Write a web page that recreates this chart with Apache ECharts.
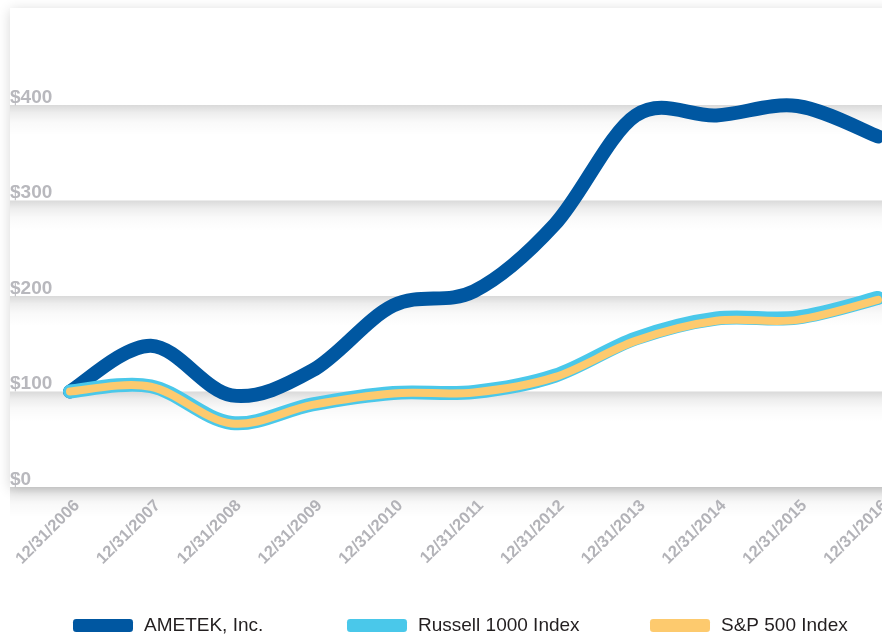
<!DOCTYPE html>
<html>
<head>
<meta charset="utf-8">
<style>
  html, body { margin: 0; padding: 0; background: #ffffff; overflow: hidden; }
  #chart { width: 882px; height: 635px; }
</style>
<script src="https://cdn.jsdelivr.net/npm/echarts@6/dist/echarts.min.js"></script>
</head>
<body>
<div id="chart"></div>
<script>
const categories = ['12/31/2006','12/31/2007','12/31/2008','12/31/2009','12/31/2010','12/31/2011','12/31/2012','12/31/2013','12/31/2014','12/31/2015','12/31/2016'];
const ametek  = [100, 148, 96, 122, 190, 205, 275, 389, 389, 399, 367];
const russell = [100, 105.5, 67, 86.5, 98.5, 99.5, 116.5, 155.5, 176.5, 177.5, 198];
const sp500   = [100, 105, 66.5, 86, 98, 99, 115, 153, 174, 175, 196];
const yTickValues = [0, 100, 200, 300, 400];
const seriesNames = ['AMETEK, Inc.', 'Russell 1000 Index', 'S&P 500 Index'];
const seriesColors = ['#0057a1', '#4ac8ea', '#fdca6e'];
const seriesWidths = [14, 14, 8];

const chart = echarts.init(document.getElementById('chart'), null, { renderer: 'canvas' });

const band = {
  type: 'linear', x: 0, y: 0, x2: 0, y2: 1,
  colorStops: [
    { offset: 0, color: 'rgba(0,0,0,0.15)' },
    { offset: 0.08, color: 'rgba(0,0,0,0.07)' },
    { offset: 0.18, color: 'rgba(0,0,0,0.025)' },
    { offset: 0.32, color: 'rgba(0,0,0,0)' },
    { offset: 1, color: 'rgba(0,0,0,0)' }
  ]
};

// Smooth curve (Catmull-Rom -> cubic Bezier) through points placed by the axes.
function makeRender(values, width, color) {
  return function (params, api) {
    if (params.dataIndex !== 0) return null;
    const pts = values.map(function (v, i) { return api.coord([i, v]); });
    let d = 'M' + pts[0][0] + ' ' + pts[0][1];
    for (let i = 0; i < pts.length - 1; i++) {
      const p0 = pts[i - 1] || pts[i], p1 = pts[i], p2 = pts[i + 1], p3 = pts[i + 2] || pts[i + 1];
      const c1x = p1[0] + (p2[0] - p0[0]) / 6, c1y = p1[1] + (p2[1] - p0[1]) / 6;
      const c2x = p2[0] - (p3[0] - p1[0]) / 6, c2y = p2[1] - (p3[1] - p1[1]) / 6;
      d += ' C' + c1x + ' ' + c1y + ' ' + c2x + ' ' + c2y + ' ' + p2[0] + ' ' + p2[1];
    }
    return {
      type: 'path',
      shape: { pathData: d },
      style: { fill: null, stroke: color, lineWidth: width, lineCap: 'round', lineJoin: 'round' }
    };
  };
}

function lineSeries(idx, values) {
  return {
    name: seriesNames[idx], type: 'custom', xAxisIndex: 2, yAxisIndex: 2, clip: false,
    data: values.map(function (v, i) { return [i, v]; }),
    encode: { x: 0, y: 1 },
    itemStyle: { color: seriesColors[idx] },
    renderItem: makeRender(values, seriesWidths[idx], seriesColors[idx])
  };
}

const option = {
  backgroundColor: '#ffffff',
  animation: false,
  grid: [
    { left: 10, top: 8, right: -20, bottom: 148, show: true, backgroundColor: '#ffffff', borderWidth: 0,
      shadowBlur: 12, shadowColor: 'rgba(0,0,0,0.16)', shadowOffsetY: 2, outerBoundsMode: 'none', containLabel: false },
    { left: 10, top: 9.5, right: 0, height: 573, outerBoundsMode: 'none', containLabel: false },
    { left: 70, top: 9.5, right: 4, bottom: 148, outerBoundsMode: 'none', containLabel: false }
  ],
  xAxis: [
    { gridIndex: 0, type: 'value', show: false },
    { gridIndex: 1, type: 'value', show: false },
    { gridIndex: 2, type: 'category', data: categories, boundaryGap: false,
      axisLine: { show: false }, axisTick: { show: false }, splitLine: { show: false },
      axisLabel: { interval: 0, rotate: 45, margin: 9, verticalAlign: 'top', lineHeight: 20, hideOverlap: false,
        color: '#b3b3b8', fontFamily: 'Liberation Sans, Arial, sans-serif', fontWeight: 'bold', fontSize: 16.5 } }
  ],
  yAxis: [
    { gridIndex: 0, type: 'value', show: false },
    { gridIndex: 1, type: 'value', min: -100, max: 500, interval: 100,
      axisLine: { show: false }, axisTick: { show: false }, splitLine: { show: false },
      splitArea: { show: true, areaStyle: { color: [band, band, band, band, band, 'rgba(0,0,0,0)'] } },
      axisLabel: { inside: true, margin: 0, align: 'left', verticalAlign: 'bottom', lineHeight: 15,
        color: '#b8b8bd', fontFamily: 'Liberation Sans, Arial, sans-serif', fontWeight: 'bold', fontSize: 19,
        formatter: function (v) { return yTickValues.indexOf(v) >= 0 ? '$' + v : ''; } } },
    { gridIndex: 2, type: 'value', min: 0, max: 500, interval: 100, show: false }
  ],
  legend: [0, 1, 2].map(function (i) {
    return {
      data: [seriesNames[i]], left: [68, 342, 645][i], top: 611,
      itemWidth: 60, itemHeight: 13, icon: 'roundRect', selectedMode: false,
      textStyle: { color: '#231f20', fontFamily: 'Liberation Sans, Arial, sans-serif', fontSize: 19, padding: [0, 0, 0, 6] }
    };
  }),
  series: [
    lineSeries(0, ametek),
    lineSeries(1, russell),
    lineSeries(2, sp500)
  ]
};
chart.setOption(option);
</script>
</body>
</html>
